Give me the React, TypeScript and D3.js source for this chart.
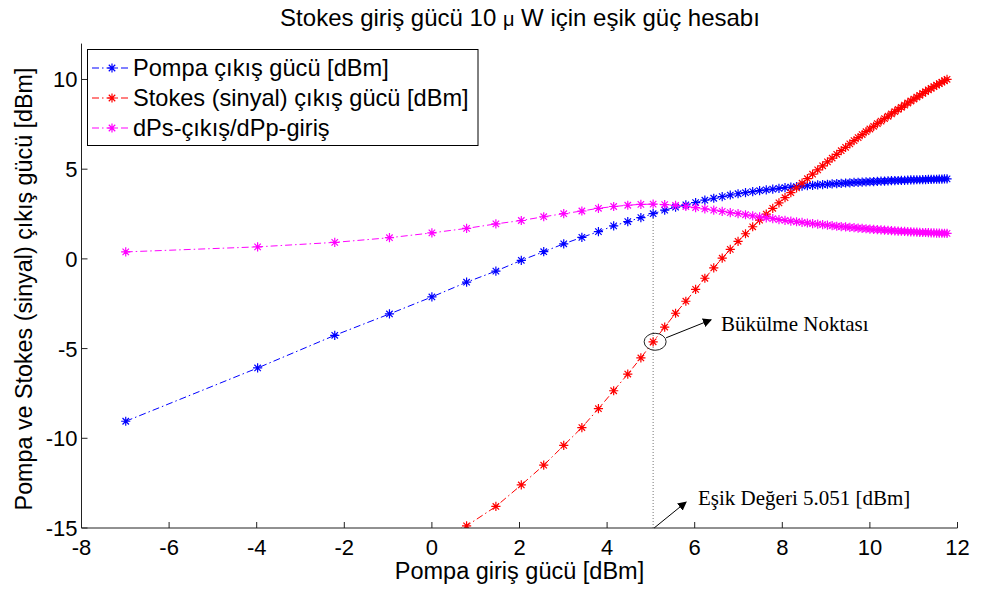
import React from 'react';
import * as d3 from 'd3';

// Pump input power [dBm] (0.2 mW steps from 0.2 to 15 mW)
const pumpInput = [
  -6.990, -3.979, -2.218, -0.969, 0.000, 0.792, 1.461, 2.041, 2.553, 3.010,
  3.424, 3.802, 4.150, 4.472, 4.771, 5.051, 5.315, 5.563, 5.798, 6.021,
  6.232, 6.435, 6.628, 6.812, 6.990, 7.160, 7.324, 7.482, 7.634, 7.782,
  7.924, 8.062, 8.195, 8.325, 8.451, 8.573, 8.692, 8.808, 8.921, 9.031,
  9.138, 9.243, 9.345, 9.445, 9.542, 9.638, 9.731, 9.823, 9.912, 10.000,
  10.086, 10.170, 10.253, 10.334, 10.414, 10.492, 10.569, 10.645, 10.719, 10.792,
  10.864, 10.934, 11.004, 11.072, 11.139, 11.206, 11.271, 11.335, 11.399, 11.461,
  11.523, 11.584, 11.644, 11.703, 11.761,
];

// Pump output power [dBm]
const pumpOutput = [
  -9.05, -6.08, -4.26, -3.07, -2.12, -1.30, -0.68, -0.08, 0.40, 0.84,
  1.20, 1.52, 1.84, 2.08, 2.30, 2.52, 2.72, 2.88, 3.01, 3.14,
  3.27, 3.38, 3.47, 3.56, 3.63, 3.69, 3.75, 3.80, 3.85, 3.89,
  3.93, 3.97, 4.00, 4.03, 4.06, 4.08, 4.10, 4.12, 4.14, 4.16,
  4.18, 4.20, 4.21, 4.23, 4.24, 4.26, 4.27, 4.28, 4.29, 4.30,
  4.31, 4.32, 4.33, 4.34, 4.35, 4.36, 4.36, 4.37, 4.38, 4.38,
  4.39, 4.40, 4.40, 4.41, 4.41, 4.42, 4.42, 4.43, 4.43, 4.44,
  4.44, 4.45, 4.45, 4.46, 4.46,
];

// Stokes (signal) output power [dBm]
const stokesOutput = [
  -24.0, -21.2, -19.0, -17.2, -15.7, -14.88, -13.8, -12.6, -11.5, -10.4,
  -9.4, -8.35, -7.35, -6.42, -5.52, -4.62, -3.80, -3.03, -2.36, -1.70,
  -1.08, -0.50, 0.04, 0.53, 0.98, 1.40, 1.79, 2.16, 2.50, 2.82,
  3.12, 3.41, 3.69, 3.96, 4.22, 4.47, 4.72, 4.96, 5.19, 5.41,
  5.62, 5.83, 6.03, 6.22, 6.41, 6.59, 6.76, 6.93, 7.09, 7.24,
  7.39, 7.54, 7.68, 7.82, 7.95, 8.08, 8.21, 8.33, 8.45, 8.57,
  8.69, 8.80, 8.91, 9.02, 9.12, 9.22, 9.32, 9.42, 9.51, 9.60,
  9.69, 9.77, 9.85, 9.93, 10.01,
];

// dPs-out / dPp-in
const slopeRatio = [
  0.39, 0.67, 0.92, 1.18, 1.45, 1.70, 1.95, 2.14, 2.35, 2.52,
  2.67, 2.82, 2.92, 2.99, 3.04, 3.05, 3.03, 2.98, 2.92, 2.86,
  2.79, 2.72, 2.65, 2.58, 2.52, 2.46, 2.40, 2.34, 2.29, 2.24,
  2.19, 2.15, 2.11, 2.07, 2.03, 2.00, 1.97, 1.94, 1.91, 1.88,
  1.85, 1.82, 1.80, 1.78, 1.76, 1.74, 1.72, 1.70, 1.68, 1.66,
  1.65, 1.63, 1.62, 1.60, 1.59, 1.58, 1.56, 1.55, 1.54, 1.53,
  1.52, 1.51, 1.50, 1.49, 1.48, 1.47, 1.47, 1.46, 1.45, 1.45,
  1.44, 1.44, 1.43, 1.43, 1.42,
];

const legendLabels = [
  'Pompa çıkış gücü [dBm]',
  'Stokes (sinyal) çıkış gücü [dBm]',
  'dPs-çıkış/dPp-giriş',
];
const seriesColors = ['#0000ff', '#ff0000', '#ff00ff'];

const xTicks = [-8, -6, -4, -2, 0, 2, 4, 6, 8, 10, 12];
const yTicks = [-15, -10, -5, 0, 5, 10];

const thresholdIndex = 15; // 5.051 dBm
const thresholdLabel = 'Eşik Değeri 5.051 [dBm]';
const kneeLabel = 'Bükülme Noktası';

const SANS = "'Liberation Sans', Arial, sans-serif";
const SERIF = "'Liberation Serif', 'Times New Roman', serif";
const DASH = '7 3 1.5 3';

const starPath = (r: number) => {
  const d = r * 0.7;
  return `M${-r},0H${r}M0,${-r}V${r}M${-d},${-d}L${d},${d}M${-d},${d}L${d},${-d}`;
};

export default function App() {
  const x = d3.scaleLinear().domain([-8, 12]).range([81.5, 957.5]);
  const y = d3.scaleLinear().domain([-15, 12]).range([528, 43.6]);

  const series = [pumpOutput, stokesOutput, slopeRatio];
  const line = d3
    .line<number>()
    .x((_, i) => x(pumpInput[i]))
    .y((d) => y(d));

  const star = starPath(4.6);
  const tx = x(pumpInput[thresholdIndex]);
  const kneeY = y(stokesOutput[thresholdIndex]);
  const topY = y(pumpOutput[thresholdIndex]);
  const [x0, x1] = x.range();
  const [y0, y1] = y.range();

  return (
    <svg
      width={981}
      height={590}
      style={{ position: 'absolute', left: 0, top: 0, background: '#fff' }}
    >
      <defs>
        <clipPath id="plotArea">
          <rect x={x0} y={y1} width={x1 - x0} height={y0 - y1} />
        </clipPath>
        <marker
          id="arrowHead"
          viewBox="0 0 10 10"
          refX="9"
          refY="5"
          markerWidth="9"
          markerHeight="9"
          markerUnits="userSpaceOnUse"
          orient="auto"
        >
          <path d="M0,0L10,5L0,10Z" fill="#000" />
        </marker>
      </defs>

      {/* title */}
      <text x={520} y={26} textAnchor="middle" fontFamily={SANS} fontSize={24} fill="#000">
        Stokes giriş gücü 10 <tspan fontSize={20}>μ</tspan> W için eşik güç hesabı
      </text>

      {/* threshold guide */}
      <line x1={tx} x2={tx} y1={y0} y2={topY} stroke="#777" strokeWidth={1} strokeDasharray="1 2" />

      {/* series */}
      <g clipPath="url(#plotArea)">
        {series.map((vals, s) => (
          <g key={s}>
            <path
              d={line(vals) || ''}
              fill="none"
              stroke={seriesColors[s]}
              strokeWidth={1}
              strokeDasharray={DASH}
            />
            {vals.map((v, i) => (
              <path
                key={i}
                d={star}
                transform={`translate(${x(pumpInput[i])},${y(v)})`}
                fill="none"
                stroke={seriesColors[s]}
                strokeWidth={1.2}
              />
            ))}
          </g>
        ))}
      </g>

      {/* axes */}
      <g fontFamily={SANS} fontSize={22} fill="#000">
        <line x1={x0} x2={x1} y1={y0} y2={y0} stroke="#222" strokeWidth={1} />
        <line x1={x0} x2={x0} y1={y0} y2={y1} stroke="#222" strokeWidth={1} />
        {xTicks.map((t) => (
          <g key={`x${t}`}>
            <line x1={x(t)} x2={x(t)} y1={y0} y2={y0 - 6} stroke="#222" strokeWidth={1} />
            <text x={x(t)} y={y0 + 27} textAnchor="middle">
              {t}
            </text>
          </g>
        ))}
        {yTicks.map((t) => (
          <g key={`y${t}`}>
            <line x1={x0} x2={x0 + 6} y1={y(t)} y2={y(t)} stroke="#222" strokeWidth={1} />
            <text x={x0 - 4} y={y(t) + 8} textAnchor="end">
              {t}
            </text>
          </g>
        ))}
        <text x={(x0 + x1) / 2} y={579} textAnchor="middle" fontSize={23.5}>
          Pompa giriş gücü [dBm]
        </text>
        <text
          transform={`translate(32,289) rotate(-90)`}
          textAnchor="middle"
          fontSize={23.3}
        >
          Pompa ve Stokes (sinyal) çıkış gücü [dBm]
        </text>
      </g>

      {/* annotations */}
      <ellipse cx={tx + 2} cy={kneeY} rx={11} ry={8.5} fill="none" stroke="#222" strokeWidth={1} />
      <line
        x1={tx + 13}
        y1={kneeY - 4}
        x2={tx + 58}
        y2={kneeY - 22}
        stroke="#000"
        strokeWidth={1}
        markerEnd="url(#arrowHead)"
      />
      <text x={721} y={331} fontFamily={SERIF} fontSize={21} fill="#000">
        {kneeLabel}
      </text>
      <line
        x1={tx + 1}
        y1={y0}
        x2={tx + 33}
        y2={y0 - 26}
        stroke="#000"
        strokeWidth={1}
        markerEnd="url(#arrowHead)"
      />
      <text x={698} y={505} fontFamily={SERIF} fontSize={21} fill="#000">
        {thresholdLabel}
      </text>

      {/* legend */}
      <g>
        <rect x={87.5} y={49.5} width={390.5} height={96} fill="#fff" stroke="#000" strokeWidth={1} />
        {legendLabels.map((label, i) => {
          const cy = 68 + i * 30;
          return (
            <g key={label}>
              <line
                x1={92}
                x2={131}
                y1={cy}
                y2={cy}
                stroke={seriesColors[i]}
                strokeWidth={1}
                strokeDasharray={DASH}
              />
              <path
                d={star}
                transform={`translate(112,${cy})`}
                fill="none"
                stroke={seriesColors[i]}
                strokeWidth={1.2}
              />
              <text x={133} y={cy + 8} fontFamily={SANS} fontSize={23.6} fill="#000">
                {label}
              </text>
            </g>
          );
        })}
      </g>
    </svg>
  );
}
